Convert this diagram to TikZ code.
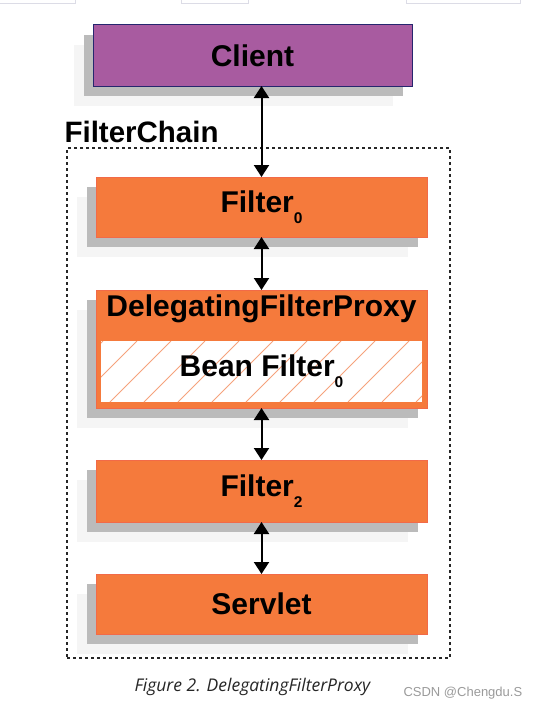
\documentclass[tikz,border=0pt]{standalone}
\usepackage{fontspec}
\setmainfont{Liberation Sans}
\newfontfamily\capfont{Open Sans}
\usetikzlibrary{arrows.meta,shadows}
\definecolor{clientfill}{HTML}{A85BA0}
\definecolor{clientdraw}{HTML}{26266E}
\definecolor{orangefill}{HTML}{F57A3C}
\definecolor{orangedraw}{HTML}{F26A48}
\definecolor{hatchcol}{HTML}{F6A27C}
\definecolor{shadowdark}{HTML}{BBBBBB}
\definecolor{shadowlight}{HTML}{F5F5F5}
\definecolor{tabcol}{HTML}{DCDCE6}
\definecolor{captioncol}{HTML}{262626}
\definecolor{csdncol}{HTML}{9A9A9A}
\tikzset{
  x=1pt, y=-1pt,
  boxfont/.style={font=\fontsize{30}{35}\selectfont\bfseries},
  shadowed/.style={
    copy shadow={shadow xshift=-19pt, shadow yshift=-20pt, fill=shadowlight, draw=none},
    copy shadow={shadow xshift=-9pt, shadow yshift=-10pt, fill=shadowdark, draw=none}},
  clientbox/.style={shadowed, draw=clientdraw, fill=clientfill, line width=1pt,
    inner sep=0pt, outer sep=0pt, boxfont},
  orangebox/.style={shadowed, draw=orangedraw, fill=orangefill, line width=1pt,
    inner sep=0pt, outer sep=0pt, boxfont, minimum width=331pt},
  beanbox/.style={draw=none, fill=white, inner sep=0pt, outer sep=0pt, boxfont,
    minimum width=321pt, minimum height=61pt},
  hatchline/.style={draw=hatchcol, line width=0.9pt},
  chainbox/.style={draw=black!85, dash pattern=on 3pt off 3pt, line width=1.2pt,
    inner sep=0pt, outer sep=0pt, minimum width=383pt, minimum height=510pt},
  linkarrow/.style={line width=2pt,
    {Triangle[width=15pt,length=12pt]}-{Triangle[width=15pt,length=12pt]}},
  tabline/.style={draw=tabcol, line width=1pt}
}
\newcommand{\subz}[1]{\raisebox{-11pt}{\fontsize{15.5}{15}\selectfont #1}}
\begin{document}
\begin{tikzpicture}
\useasboundingbox (0,0) rectangle (541,709);
% top tab outlines
\draw[tabline] (0,4) -- (75,4) -- (75,0);
\draw[tabline] (181,0) -- (181,4) -- (248,4) -- (248,0);
\draw[tabline] (406,0) -- (406,4) -- (520,4) -- (520,0);
% dashed chain
\node[chainbox] (chain) at (258.5,403) {};
\node[anchor=base west, font=\fontsize{29.5}{34}\selectfont\bfseries] (chainlabel) at (61,142) {FilterChain};
% boxes
\node[clientbox, minimum width=319pt, minimum height=61pt] (client) at (252.5,55.5) {Client};
\node[orangebox, minimum height=60pt] (f0) at (261.5,207) {Filter\subz{0}};
\node[orangebox, minimum height=118pt] (dfp) at (261.5,349) {};
\node[anchor=base, boxfont] (dfplabel) at (261.5,316) {DelegatingFilterProxy};
\node[beanbox] (bean) at (261.5,371.5) {};
\begin{scope}
  \clip (bean.north west) rectangle (bean.south east);
  \foreach \k in {-3,...,10} \draw[hatchline] ({110+34*\k},402) -- ++(61,-61);
\end{scope}
\node[boxfont, inner sep=0pt] (beanlabel) at (bean.center) {Bean Filter\subz{0}};
\node[orangebox, minimum height=62pt] (f2) at (261.5,491) {Filter\subz{2}};
\node[orangebox, minimum height=60pt] (servlet) at (261.5,604) {Servlet};
% arrows
\draw[linkarrow] (f0.north |- client.south) -- (f0.north);
\draw[linkarrow] (f0.south) -- (dfp.north);
\draw[linkarrow] (dfp.south) -- (f2.north);
\draw[linkarrow] (f2.south) -- (servlet.north);
% caption
\node[anchor=base west, text=captioncol, font=\capfont\itshape\fontsize{17.5}{21}\selectfont] (caption) at (131,691) {Figure 2. DelegatingFilterProxy};
\node[anchor=base west, text=csdncol, font=\fontsize{13}{15}\selectfont] (csdn) at (400,696) {CSDN @Chengdu.S};
\end{tikzpicture}
\end{document}
